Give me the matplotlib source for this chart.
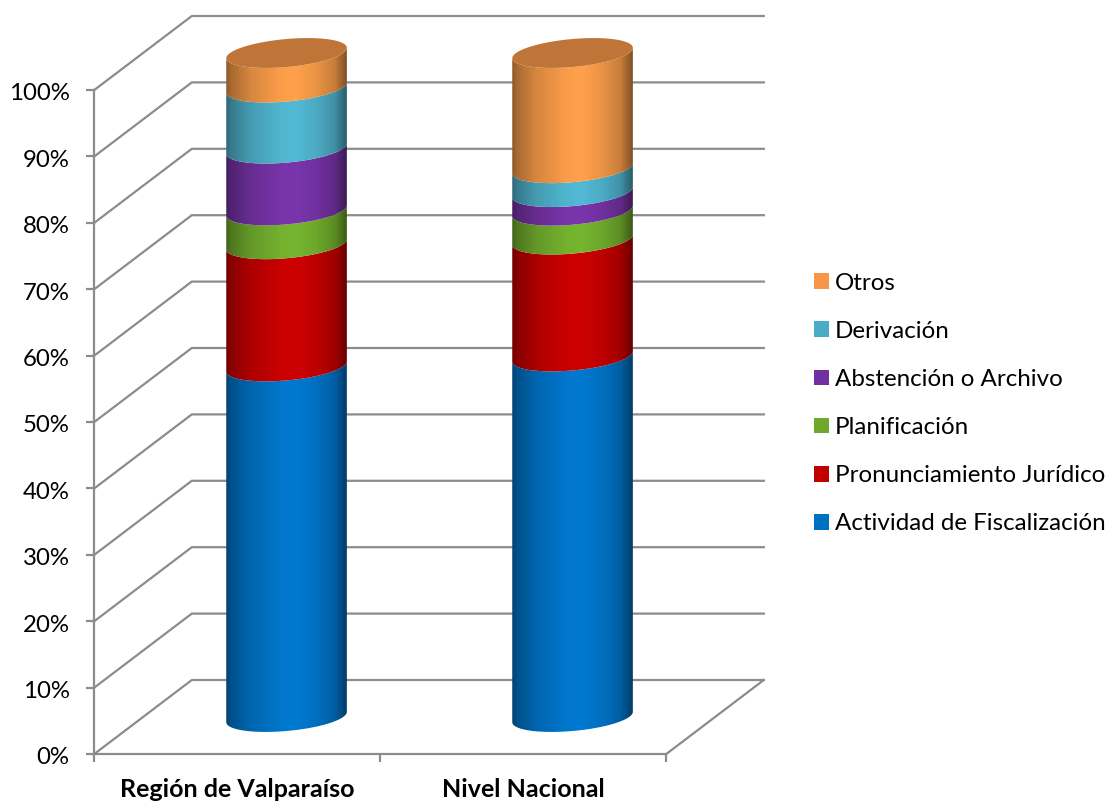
import numpy as np
import matplotlib
matplotlib.use("Agg")
import matplotlib.pyplot as plt
from matplotlib.patches import Patch, Polygon
from matplotlib.colors import to_rgb
from matplotlib.transforms import ScaledTranslation

categories = ["Región de Valparaíso", "Nivel Nacional"]
series_names = ["Actividad de Fiscalización", "Pronunciamiento Jurídico", "Planificación",
                "Abstención o Archivo", "Derivación", "Otros"]
fiscalizacion = [52.8, 54.3]
pronunciamiento = [18.4, 17.6]
planificacion = [5.1, 4.35]
abstencion = [9.3, 2.8]
derivacion = [9.2, 3.6]
otros = [5.2, 17.35]
series_values = [fiscalizacion, pronunciamiento, planificacion, abstencion, derivacion, otros]
y_ticks = [0, 10, 20, 30, 40, 50, 60, 70, 80, 90, 100]
y_labels = [f"{v}%" for v in y_ticks]

bright = ["#0079D0", "#CE0000", "#76B52F", "#7A35AC", "#52B9D4", "#FFA04B"]
legend_cols = ["#0070C0", "#C00000", "#70A82C", "#7030A0", "#4BACC6", "#F79646"]
cap_color = "#BE7537"
grid_color = "#8C8C8C"

W, H = 1117, 802
plt.rcParams["font.family"] = ["Lato", "DejaVu Sans"]
fig = plt.figure(figsize=(W / 100, H / 100), dpi=100, facecolor="white")
ax = fig.add_axes([94.3 / W, (H - 754) / H, 572 / W, 664 / H])
ax.set_xlim(0, 2)
ax.set_ylim(0, 100)

# oblique projection of the chart's depth, in data units
DX, DY = 97.5 / 286, 74 / 6.64
A, C, B = 60.3 / 286, 5.2 / 6.64, 14 / 6.64


def front(xc, v, n=80):
    t = np.linspace(0, np.pi, n)
    return xc + A * np.cos(t), v + C * np.cos(t) - B * np.sin(t)


lw = 1.6
for v in y_ticks:
    ax.plot([0, DX, 2 + DX], [v, v + DY, v + DY], color=grid_color, lw=lw, clip_on=False,
            zorder=1, solid_joinstyle="miter")
ax.plot([2, 2 + DX], [0, DY], color=grid_color, lw=lw, clip_on=False, zorder=1)

stops_x = [0, .04, .2, .45, .58, .75, .9, 1]
stops_f = [.55, .66, .84, .98, 1, .92, .78, .5]
shade = np.interp(np.linspace(0, 1, 256), stops_x, stops_f)

for i, cat in enumerate(categories):
    xc = i + 0.5 + DX / 2 + 0.5 / 286
    base = 0
    for vals, col in zip(series_values, bright):
        top = base + vals[i]
        x0, y0 = front(xc, base + DY / 2)
        x1, y1 = front(xc, top + DY / 2)
        pts = np.column_stack([np.r_[x0, x1[::-1]], np.r_[y0, y1[::-1]]])
        clip = Polygon(pts, closed=True, transform=ax.transData)
        img = np.outer(shade, to_rgb(col)).reshape(1, 256, 3)
        im = ax.imshow(img, extent=(xc - A, xc + A, base + DY / 2 - 5, top + DY / 2 + 5),
                       aspect="auto", interpolation="bilinear", zorder=3)
        im.set_clip_box(fig.bbox)
        im.set_clip_path(clip)
        base = top
    t = np.linspace(0, 2 * np.pi, 160)
    ax.fill(xc + A * np.cos(t), base + DY / 2 + C * np.cos(t) + B * np.sin(t), color=cap_color,
            lw=0, clip_on=False, zorder=4)

ax.set_xlim(0, 2)
ax.set_ylim(0, 100)
for s in ("top", "right"):
    ax.spines[s].set_visible(False)
for s in ("left", "bottom"):
    ax.spines[s].set_color(grid_color)
    ax.spines[s].set_linewidth(lw)
    ax.spines[s].set_zorder(2)

ax.set_yticks(y_ticks, y_labels, fontsize=17.3)
ax.tick_params(axis="y", length=5.8, width=lw, color=grid_color, pad=12)
shift = ScaledTranslation(0, -2 / 100, fig.dpi_scale_trans)
for lab in ax.get_yticklabels():
    lab.set_transform(lab.get_transform() + shift)
ax.set_xticks([0, 1, 2], ["", "", ""])
ax.tick_params(axis="x", which="major", length=5.8, width=lw, color=grid_color)
ax.set_xticks([0.5, 1.5], categories, minor=True, fontsize=18, fontweight="bold")
ax.tick_params(axis="x", which="minor", length=0, pad=17)

handles = [Patch(facecolor=c, edgecolor="none") for c in legend_cols[::-1]]
leg = fig.legend(handles, series_names[::-1], loc="center left", frameon=False,
                 bbox_to_anchor=(813.5 / W, (H - 403.5) / H), borderpad=0, borderaxespad=0,
                 fontsize=17.4, handlelength=0.63, handleheight=0.63, handletextpad=0.24,
                 labelspacing=1.12)

fig.savefig("out.png", dpi=100, facecolor="white")
